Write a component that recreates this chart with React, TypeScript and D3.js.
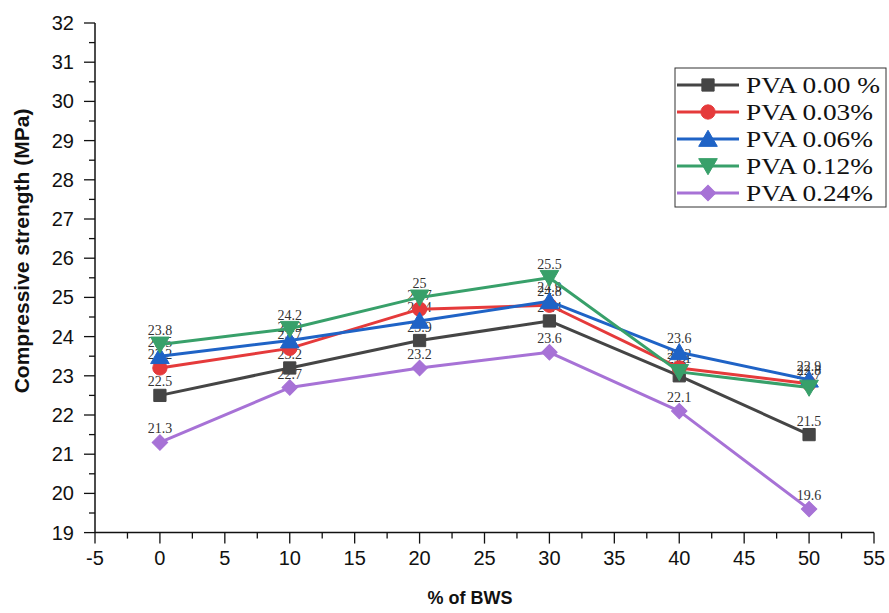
import React from "react";
import * as d3 from "d3";

const xValues = [0, 10, 20, 30, 40, 50];
const seriesNames = ["PVA 0.00 %", "PVA 0.03%", "PVA 0.06%", "PVA 0.12%", "PVA 0.24%"];
const pva000 = [22.5, 23.2, 23.9, 24.4, 23.0, 21.5];
const pva003 = [23.2, 23.7, 24.7, 24.8, 23.2, 22.8];
const pva006 = [23.5, 23.9, 24.4, 24.9, 23.6, 22.9];
const pva012 = [23.8, 24.2, 25.0, 25.5, 23.1, 22.7];
const pva024 = [21.3, 22.7, 23.2, 23.6, 22.1, 19.6];
const seriesColors = ["#454545", "#e53a3b", "#1f63c6", "#38a06a", "#a772d6"];
const seriesSymbols = ["square", "circle", "triUp", "triDown", "diamond"];
const xTicks = [-5, 0, 5, 10, 15, 20, 25, 30, 35, 40, 45, 50, 55];
const yTicks = [19, 20, 21, 22, 23, 24, 25, 26, 27, 28, 29, 30, 31, 32];

const W = 889, H = 613;
const x = d3.scaleLinear().domain([-5, 55]).range([95, 874]);
const y = d3.scaleLinear().domain([19, 32]).range([532.6, 23]);

function symbolPath(kind: string, size: number) {
  const map: Record<string, any> = {
    square: d3.symbolSquare,
    circle: d3.symbolCircle,
    triUp: d3.symbolTriangle,
    triDown: d3.symbolTriangle,
    diamond: d3.symbolSquare,
  };
  return d3.symbol().type(map[kind]).size(size)() as string;
}

function Marker({ kind, cx, cy, color }: { kind: string; cx: number; cy: number; color: string }) {
  const sizes: Record<string, number> = { square: 150, circle: 160, triUp: 150, triDown: 150, diamond: 120 };
  const rot = kind === "triDown" ? 180 : kind === "diamond" ? 45 : 0;
  const dy = kind === "triUp" ? 2 : kind === "triDown" ? -2 : 0;
  return (
    <path
      d={symbolPath(kind, sizes[kind])}
      transform={`translate(${cx},${cy + dy}) rotate(${rot})`}
      fill={color}
      stroke={color}
      strokeWidth={1}
    />
  );
}

export default function App() {
  const all = [pva000, pva003, pva006, pva012, pva024];
  const line = d3
    .line<number>()
    .x((_, i) => x(xValues[i]))
    .y((d) => y(d));
  const xMinor = d3.range(-5, 55.01, 2.5);
  const yMinor = d3.range(19, 32.01, 0.5);
  return (
    <svg
      width={W}
      height={H}
      style={{ position: "absolute", left: 0, top: 0, background: "#fff" }}
      fontFamily="'Liberation Sans', Arial, sans-serif"
    >
      <rect x={0} y={0} width={W} height={H} fill="#fff" />
      {/* axes */}
      <line x1={95} x2={95} y1={y(32)} y2={y(19)} stroke="#111" strokeWidth={1.5} />
      <line x1={95} x2={874} y1={y(19)} y2={y(19)} stroke="#111" strokeWidth={1.5} />
      {yMinor.map((v) => (
        <line key={"ym" + v} x1={95} x2={Number.isInteger(v) ? 84 : 89} y1={y(v)} y2={y(v)} stroke="#111" strokeWidth={1.3} />
      ))}
      {yTicks.map((v) => (
        <text key={"yt" + v} x={74} y={y(v)} dy="0.35em" textAnchor="end" fontSize={20} fill="#111">
          {v}
        </text>
      ))}
      {xMinor.map((v) => (
        <line key={"xm" + v} x1={x(v)} x2={x(v)} y1={y(19)} y2={y(19) + (Math.abs(v % 5) < 0.01 ? 11 : 6)} stroke="#111" strokeWidth={1.3} />
      ))}
      {xTicks.map((v) => (
        <text key={"xt" + v} x={x(v)} y={y(19) + 25} dy="0.35em" textAnchor="middle" fontSize={20} fill="#111">
          {v}
        </text>
      ))}
      <text x={470} y={604} textAnchor="middle" fontSize={18} fontWeight="bold" fill="#111">
        % of BWS
      </text>
      <text
        transform={`translate(22,251) rotate(-90)`}
        textAnchor="middle"
        dy="0.35em"
        fontSize={21}
        fontWeight="bold"
        fill="#111"
      >
        Compressive strength (MPa)
      </text>
      {/* data labels */}
      {all.map((s, si) =>
        s.map((v, i) => (
          <text
            key={"dl" + si + "-" + i}
            x={x(xValues[i])}
            y={y(v) - 9}
            textAnchor="middle"
            fontSize={14}
            fontFamily="'Liberation Serif', 'Times New Roman', serif"
            fill="#333"
          >
            {v === Math.round(v) ? String(v) : v.toFixed(1)}
          </text>
        ))
      )}
      {/* series */}
      {all.map((s, si) => (
        <g key={"s" + si}>
          <path d={line(s) as string} fill="none" stroke={seriesColors[si]} strokeWidth={3} strokeLinejoin="round" />
          {s.map((v, i) => (
            <Marker key={i} kind={seriesSymbols[si]} cx={x(xValues[i])} cy={y(v)} color={seriesColors[si]} />
          ))}
        </g>
      ))}
      {/* legend */}
      <rect x={675} y={68} width={211} height={139} fill="#fff" stroke="#333" strokeWidth={1} />
      {seriesNames.map((n, i) => {
        const cy = 85 + i * 27;
        return (
          <g key={"lg" + i}>
            <line x1={677} x2={739} y1={cy} y2={cy} stroke={seriesColors[i]} strokeWidth={3} />
            <Marker kind={seriesSymbols[i]} cx={708} cy={cy} color={seriesColors[i]} />
            <text
              x={746}
              y={cy}
              dy="0.35em"
              fontSize={24}
              textLength={i === 0 ? 134 : 127}
              lengthAdjust="spacingAndGlyphs"
              fontFamily="'Liberation Serif', 'Times New Roman', serif"
              fill="#111"
            >
              {n}
            </text>
          </g>
        );
      })}
    </svg>
  );
}
